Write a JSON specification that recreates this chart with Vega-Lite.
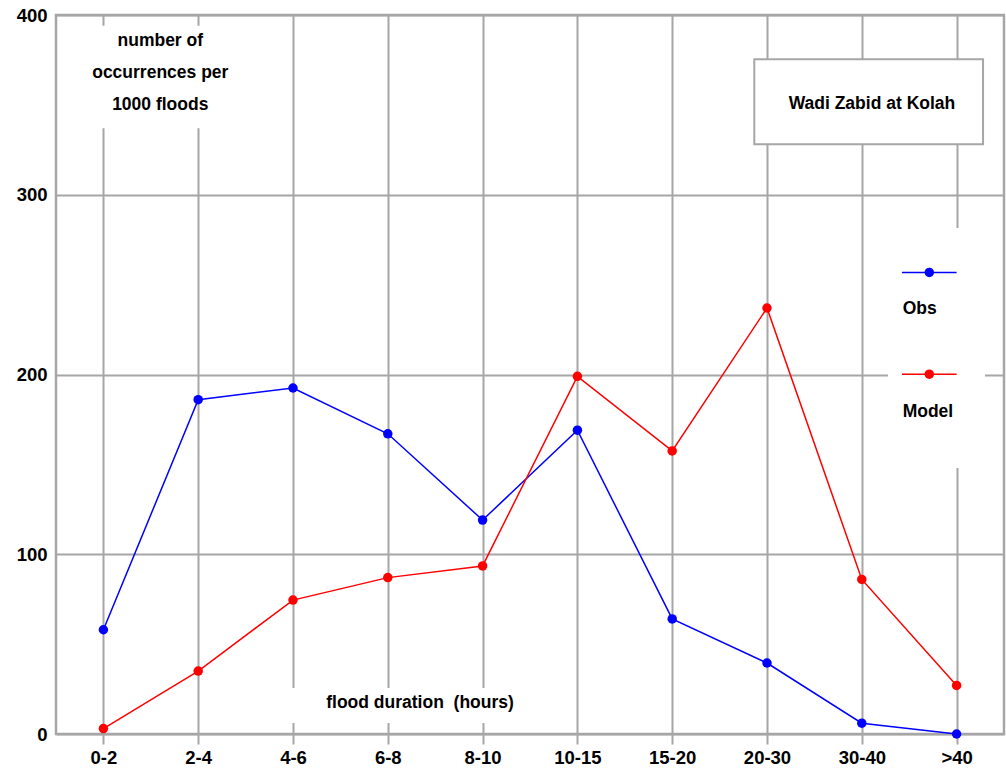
{
  "$schema": "https://vega.github.io/schema/vega-lite/v6.json",
  "width": 948,
  "height": 719,
  "autosize": {"type": "none"},
  "padding": {"left": 56, "top": 15, "right": 2, "bottom": 35},
  "background": "white",
  "config": {
    "view": {"stroke": "#a6a6a6", "strokeWidth": 2.5},
    "font": "Liberation Sans",
    "text": {"font": "Liberation Sans", "fontWeight": "bold", "fontSize": 17.5, "color": "black"}
  },
  "datasets": {
    "floods": [
      {"duration": "0-2", "series": "Obs", "value": 58},
      {"duration": "2-4", "series": "Obs", "value": 186},
      {"duration": "4-6", "series": "Obs", "value": 192.5},
      {"duration": "6-8", "series": "Obs", "value": 167},
      {"duration": "8-10", "series": "Obs", "value": 119},
      {"duration": "10-15", "series": "Obs", "value": 169},
      {"duration": "15-20", "series": "Obs", "value": 64},
      {"duration": "20-30", "series": "Obs", "value": 39.5},
      {"duration": "30-40", "series": "Obs", "value": 6},
      {"duration": ">40", "series": "Obs", "value": 0},
      {"duration": "0-2", "series": "Model", "value": 3},
      {"duration": "2-4", "series": "Model", "value": 35},
      {"duration": "4-6", "series": "Model", "value": 74.5},
      {"duration": "6-8", "series": "Model", "value": 87},
      {"duration": "8-10", "series": "Model", "value": 93.5},
      {"duration": "10-15", "series": "Model", "value": 199},
      {"duration": "15-20", "series": "Model", "value": 157.5},
      {"duration": "20-30", "series": "Model", "value": 237},
      {"duration": "30-40", "series": "Model", "value": 86},
      {"duration": ">40", "series": "Model", "value": 27}
    ],
    "one": [{}]
  },
  "resolve": {"scale": {"x": "independent"}},
  "layer": [
    {
      "data": {"name": "floods"},
      "mark": {"type": "line", "strokeWidth": 1.5, "point": {"filled": true, "size": 90, "opacity": 1}},
      "encoding": {
        "x": {
          "field": "duration", "type": "nominal", "sort": null,
          "scale": {"type": "point", "padding": 0.5},
          "axis": {
            "title": null, "grid": true, "gridColor": "#a6a6a6", "gridWidth": 2,
            "domain": false, "ticks": true, "tickColor": "#a6a6a6", "tickWidth": 2, "tickSize": 10,
            "labelFont": "Liberation Sans", "labelFontWeight": "bold", "labelFontSize": 18.5,
            "labelColor": "black", "labelPadding": 4, "labelAngle": 0
          }
        },
        "y": {
          "field": "value", "type": "quantitative",
          "scale": {"domain": [0, 400], "nice": false, "zero": true},
          "axis": {
            "title": null, "values": [0, 100, 200, 300, 400], "grid": true,
            "gridColor": "#a6a6a6", "gridWidth": 2, "domain": false, "ticks": false,
            "labelFont": "Liberation Sans", "labelFontWeight": "bold", "labelFontSize": 18.5,
            "labelColor": "black", "labelPadding": 9
          }
        },
        "color": {
          "field": "series", "type": "nominal",
          "scale": {"domain": ["Obs", "Model"], "range": ["#0000ff", "#ff0000"]},
          "legend": null
        }
      }
    },
    {
      "data": {"name": "one"},
      "mark": {"type": "rect", "fill": "white", "strokeWidth": 0},
      "encoding": {
        "x": {"datum": -0.36, "type": "quantitative", "scale": {"domain": [-0.5, 9.5]}, "axis": null},
        "x2": {"datum": 1.55},
        "y": {"datum": 394, "type": "quantitative"},
        "y2": {"datum": 337}
      }
    },
    {
      "data": {"name": "one"},
      "mark": {"type": "rect", "fill": "white", "strokeWidth": 0},
      "encoding": {
        "x": {"datum": 8.276, "type": "quantitative", "scale": {"domain": [-0.5, 9.5]}, "axis": null},
        "x2": {"datum": 9.299},
        "y": {"datum": 281.5, "type": "quantitative"},
        "y2": {"datum": 148}
      }
    },
    {
      "data": {"name": "one"},
      "mark": {"type": "rect", "fill": "white", "strokeWidth": 0},
      "encoding": {
        "x": {"datum": 1.915, "type": "quantitative", "scale": {"domain": [-0.5, 9.5]}, "axis": null},
        "x2": {"datum": 4.66},
        "y": {"datum": 25.6, "type": "quantitative"},
        "y2": {"datum": 6.1}
      }
    },
    {
      "data": {"name": "one"},
      "mark": {"type": "rect", "fill": "white", "stroke": "#a6a6a6", "strokeWidth": 2},
      "encoding": {
        "x": {"datum": 6.866, "type": "quantitative", "scale": {"domain": [-0.5, 9.5]}, "axis": null},
        "x2": {"datum": 9.279},
        "y": {"datum": 375.4, "type": "quantitative"},
        "y2": {"datum": 328.1}
      }
    },
    {
      "data": {"name": "one"},
      "mark": {"type": "text", "text": ["number of", "occurrences per", "1000 floods"], "align": "center", "baseline": "middle", "lineHeight": 32},
      "encoding": {
        "x": {"datum": 0.6, "type": "quantitative", "scale": {"domain": [-0.5, 9.5]}, "axis": null},
        "y": {"datum": 385.5, "type": "quantitative"}
      }
    },
    {
      "data": {"name": "one"},
      "mark": {"type": "text", "text": "Wadi Zabid at Kolah", "align": "center", "baseline": "middle"},
      "encoding": {
        "x": {"datum": 8.107, "type": "quantitative", "scale": {"domain": [-0.5, 9.5]}, "axis": null},
        "y": {"datum": 350.6, "type": "quantitative"}
      }
    },
    {
      "data": {"name": "one"},
      "mark": {"type": "text", "text": "flood duration \u00a0(hours)", "align": "center", "baseline": "middle"},
      "encoding": {
        "x": {"datum": 3.34, "type": "quantitative", "scale": {"domain": [-0.5, 9.5]}, "axis": null},
        "y": {"datum": 17.4, "type": "quantitative"}
      }
    },
    {
      "data": {"name": "one"},
      "mark": {"type": "rule", "color": "#0000ff", "strokeWidth": 1.5},
      "encoding": {
        "x": {"datum": 8.424, "type": "quantitative", "scale": {"domain": [-0.5, 9.5]}, "axis": null},
        "x2": {"datum": 9.0},
        "y": {"datum": 256.8, "type": "quantitative"}
      }
    },
    {
      "data": {"name": "one"},
      "mark": {"type": "rule", "color": "#ff0000", "strokeWidth": 1.5},
      "encoding": {
        "x": {"datum": 8.424, "type": "quantitative", "scale": {"domain": [-0.5, 9.5]}, "axis": null},
        "x2": {"datum": 9.0},
        "y": {"datum": 200.2, "type": "quantitative"}
      }
    },
    {
      "data": {"name": "one"},
      "mark": {"type": "point", "filled": true, "size": 90, "opacity": 1, "color": "#0000ff"},
      "encoding": {
        "x": {"datum": 8.712, "type": "quantitative", "scale": {"domain": [-0.5, 9.5]}, "axis": null},
        "y": {"datum": 256.8, "type": "quantitative"}
      }
    },
    {
      "data": {"name": "one"},
      "mark": {"type": "point", "filled": true, "size": 90, "opacity": 1, "color": "#ff0000"},
      "encoding": {
        "x": {"datum": 8.712, "type": "quantitative", "scale": {"domain": [-0.5, 9.5]}, "axis": null},
        "y": {"datum": 200.2, "type": "quantitative"}
      }
    },
    {
      "data": {"name": "one"},
      "mark": {"type": "text", "text": "Obs", "align": "left", "baseline": "middle"},
      "encoding": {
        "x": {"datum": 8.431, "type": "quantitative", "scale": {"domain": [-0.5, 9.5]}, "axis": null},
        "y": {"datum": 236.3, "type": "quantitative"}
      }
    },
    {
      "data": {"name": "one"},
      "mark": {"type": "text", "text": "Model", "align": "left", "baseline": "middle"},
      "encoding": {
        "x": {"datum": 8.431, "type": "quantitative", "scale": {"domain": [-0.5, 9.5]}, "axis": null},
        "y": {"datum": 179.3, "type": "quantitative"}
      }
    }
  ]
}
